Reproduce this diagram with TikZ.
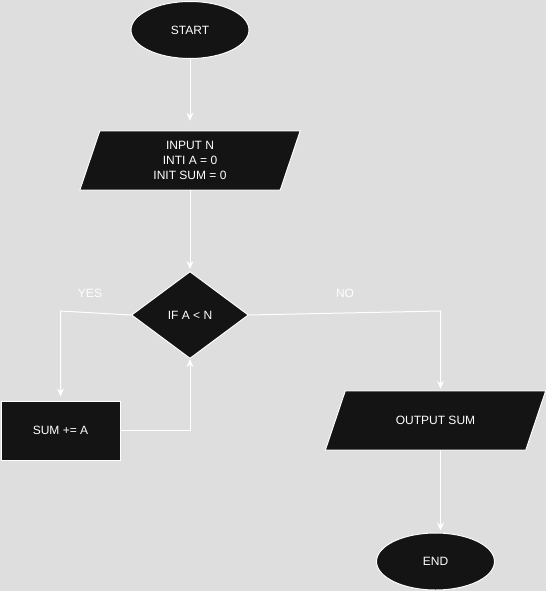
\documentclass[tikz,border=0pt]{standalone}
\usepackage{fontspec}
\setmainfont{Liberation Sans}
\usetikzlibrary{shapes.geometric,arrows.meta,positioning,backgrounds}
\definecolor{bggray}{HTML}{DEDEDE}
\definecolor{shapefill}{HTML}{141414}
\tikzstyle{line} = [draw=white, line width=1pt, -{Stealth[length=8pt,width=7pt,inset=2.5pt]}]
\tikzstyle{term} = [ellipse, draw=white, line width=1pt, fill=shapefill, text=white, inner sep=0pt, minimum width=118pt, minimum height=57pt]
\tikzstyle{io} = [rectangle, text=white, align=center, inner sep=0pt, minimum width=200pt, minimum height=59pt]
\tikzstyle{iobox} = [draw=white, line width=1pt, fill=shapefill]
\tikzstyle{decision} = [diamond, draw=white, line width=1pt, fill=shapefill, text=white, inner sep=0pt, minimum width=117pt, minimum height=87pt]
\tikzstyle{process} = [rectangle, draw=white, line width=1pt, fill=shapefill, text=white, inner sep=0pt, minimum width=119pt, minimum height=59pt]

\begin{document}
\begin{tikzpicture}[x=1pt, y=-1pt, font=\fontsize{12}{15}\selectfont]
	\tikzset{answer/.style={text=white, inner sep=0pt}}
	\useasboundingbox (0,0) rectangle (546,591);
	\node [term] (start) at (190,30) {START};
	\node [io, below of=start, node distance=130.5pt] (init) {INPUT N\\INTI A = 0\\INIT SUM = 0};
	\node [decision, below of=init, node distance=154.5pt] (cond) {IF A {<} N};
	\node [process] (sum) at (60.5,430.5) {SUM += A};
	\node [io] (out) at (435.5,420.5) {OUTPUT SUM};
	\node [term, below of=out, node distance=141pt] (end) {END};
	\node [answer] (yes) at (90,293) {YES};
	\node [answer] (no) at (345,293) {NO};
	% slanted boxes behind the io texts
	\begin{scope}[on background layer]
		\fill[bggray] (0,0) rectangle (546,591);
		\foreach \n in {init,out}
			\path [iobox] ([xshift=10pt]\n.north west) -- ([xshift=10pt]\n.north east) -- ([xshift=-10pt]\n.south east) -- ([xshift=-10pt]\n.south west) -- cycle;
	\end{scope}
	\coordinate (yesbend) at (60.5,311);
	\coordinate (nobend) at (440.5,311);
	\path [line, shorten >=10pt] (start) -- (init);
	\path [line, shorten >=2pt] (init) -- (cond);
	\path [line, shorten >=4pt] (cond.west) -- (yesbend) -- (sum.north);
	\path [line] (sum.east) -| (cond.south);
	\path [line, shorten >=2pt] (cond.east) -- (nobend) -- (nobend |- out.north);
	\path [line, shorten >=2pt] (nobend |- out.south) -- (nobend |- end.north);
\end{tikzpicture}
\end{document}
